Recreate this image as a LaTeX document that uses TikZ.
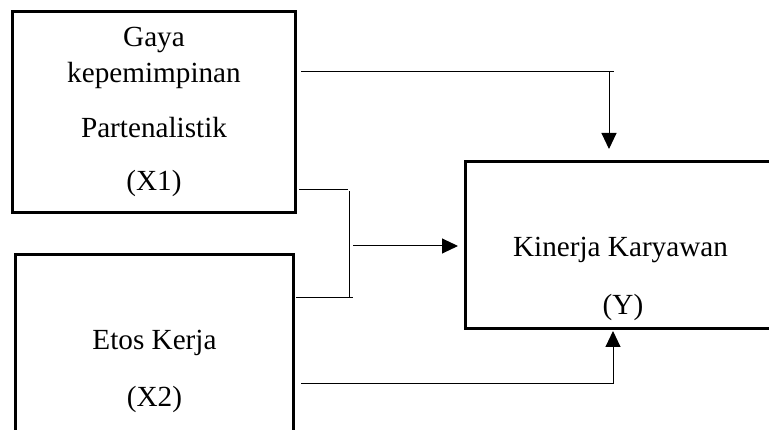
\documentclass[tikz,border=0pt]{standalone}
\usepackage{fontspec}
\setmainfont{Liberation Serif}
\usetikzlibrary{arrows.meta,calc}
\begin{document}
\begin{tikzpicture}[x=1pt,y=-1pt,
  box/.style={draw,line width=3pt,rectangle,inner sep=0pt},
  lbl/.style={anchor=base,inner sep=0pt,font=\fontsize{29.2}{35}\selectfont},
  conn/.style={line width=1pt},
  arr/.style={line width=1pt,-{Triangle[length=16pt,width=15pt]}}]
\useasboundingbox (0,0) rectangle (769,430);
\clip (0,0) rectangle (769,430);
% boxes
\node[box,minimum width=283pt,minimum height=201pt] (X1) at (154,112) {};
\node[box,minimum width=278pt,minimum height=205pt] (X2) at (154.5,357) {};
\node[box,minimum width=334.5pt,minimum height=167pt] (Y) at (632.75,245) {};
% texts
\node[lbl] (t1) at (154,47) {Gaya};
\node[lbl] (t2) at (154,83) {kepemimpinan};
\node[lbl] (t3) at (154,138) {Partenalistik};
\node[lbl] (t4) at (154,191) {(X1)};
\node[lbl] (t5) at (154.5,350) {Etos Kerja};
\node[lbl] (t6) at (154.5,407) {(X2)};
\node[lbl] (t7) at (620.5,257) {Kinerja Karyawan};
\node[lbl] (t8) at (623,315) {(Y)};
% connector points
\coordinate (a1) at (301,72);
\coordinate (a2) at (614,72);
\coordinate (a3) at (609,72);
\coordinate (b1) at (299,190);
\coordinate (b2) at (348,190);
\coordinate (b3) at (349,191);
\coordinate (b4) at (349,298);
\coordinate (b5) at (296,298);
\coordinate (b6) at (353,298);
\coordinate (b7) at (353,246);
\coordinate (c1) at (301,384);
\coordinate (c2) at (613,384);
% connectors
\draw[conn] (a1) -- (a2);
\draw[arr,shorten >=11pt] (a3) -- (a3 |- Y.north);
\draw[conn] (b1) -- (b2);
\draw[conn] (b3) -- (b4);
\draw[conn] (b5) -- (b6);
\draw[arr,shorten >=6pt] (b7) -- (b7 -| Y.west);
\draw[conn] (c1) -- (c2);
\draw[arr,shorten >=1pt] (c2) -- (c2 |- Y.south);
\end{tikzpicture}
\end{document}
